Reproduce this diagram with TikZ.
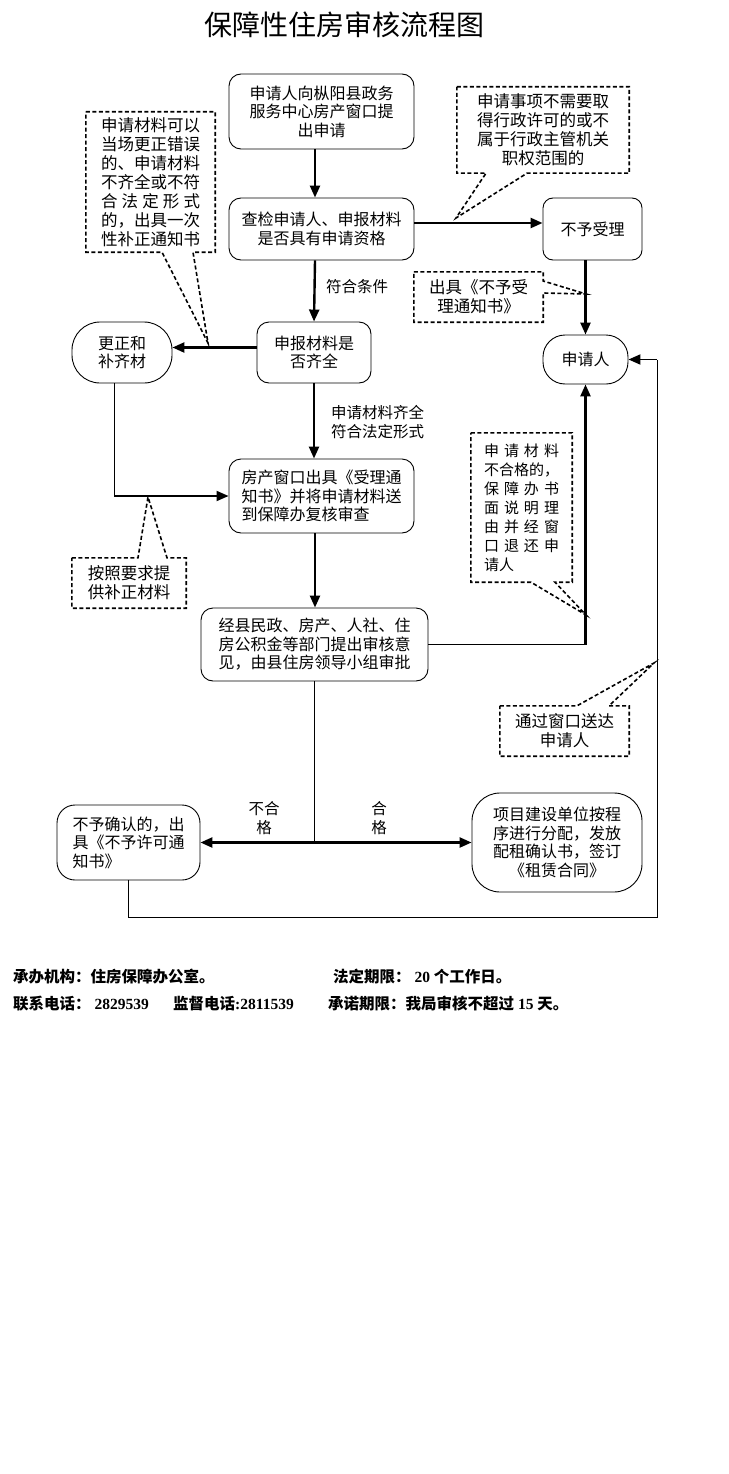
\documentclass[tikz,border=0pt]{standalone}
\usepackage{fontspec}
\setmainfont{Noto Sans CJK SC}
\newfontfamily\numfont{Liberation Serif}
\usetikzlibrary{arrows.meta, positioning, calc}
\newcommand{\jl}[2]{\makebox[#1][s]{#2}}

\tikzset{
    box/.style={draw, line width=0.9pt, rounded corners=12pt, align=center, inner sep=2pt,
        font=\fontsize{16}{18.5}\selectfont},
    pill/.style={box, rounded corners=24pt},
    note/.style={inner sep=2pt, font=\fontsize{16.5}{19}\selectfont},
    noteline/.style={line width=1.6pt, dash pattern=on 4pt off 2.5pt},
    flow/.style={line width=2.4pt, -{Triangle[length=12pt,width=10pt]}},
    link/.style={line width=0.9pt},
    lbl/.style={font=\fontsize{15.5}{19.5}\selectfont, inner sep=1pt},
    foot/.style={anchor=west, inner sep=0pt, font=\fontsize{15.5}{18}\selectfont\bfseries}
}

\begin{document}
\begin{tikzpicture}[x=1pt, y=-1pt]
    \useasboundingbox (0,0) rectangle (728,1474);

    % Title
    \node[font=\fontsize{28}{30}\selectfont] (title) at (344,25) {保障性住房审核流程图};

    % Main boxes
    \coordinate (col) at (315,0);
    \node[box, minimum width=185pt, minimum height=75pt] (apply) at (321.5,111.5)
        {申请人向枞阳县政务\\服务中心房产窗口提\\出申请};
    \node[box, minimum width=185pt, minimum height=62pt] (check) at (321.5,229)
        {查检申请人、申报材料\\是否具有申请资格};
    \node[box, minimum width=114pt, minimum height=61pt] (complete) at (314,352.5)
        {申报材料是\\否齐全};
    \node[pill, rounded corners=28pt, minimum width=100pt, minimum height=61pt] (fix) at (122,352.5)
        {更正和\\补齐材};
    \node[box, rounded corners=10pt, minimum width=99pt, minimum height=62pt] (reject) at (592.5,229)
        {不予受理};
    \node[pill, rounded corners=22pt, minimum width=85pt, minimum height=49pt] (applicant) at (585.5,359.5)
        {申请人};
    \node[box, align=left, minimum width=185pt, minimum height=74pt] (accept) at (321.5,496)
        {房产窗口出具《受理通\\知书》并将申请材料送\\到保障办复核审查};
    \node[box, minimum width=227pt, minimum height=73pt] (review) at (314.5,644.5)
        {经县民政、房产、人社、住\\房公积金等部门提出审核意\\见，由县住房领导小组审批};
    \node[box, align=left, rounded corners=18pt, minimum width=143pt, minimum height=75pt] (decline) at (128.5,842.5)
        {不予确认的，出\\具《不予许可通\\知书》};
    \node[box, rounded corners=28pt, minimum width=170pt, minimum height=99pt] (assign) at (557,842.5)
        {项目建设单位按程\\序进行分配，发放\\配租确认书，签订\\《租赁合同》};

    % Flow
    \draw[flow] (apply.south -| col) -- (check.north -| col);
    \draw[flow] (check.south -| col) -- (complete.north);
    \node[lbl, anchor=west] (okcond) at (325,287) {符合条件};
    \draw[flow] ([yshift=5pt]complete.west) -- ([yshift=5pt]fix.east);
    \draw[flow] ([yshift=6pt]check.east) -- ([yshift=6pt]reject.west);
    \draw[flow] (reject.south -| applicant) -- (applicant.north);
    \draw[flow] (complete.south) -- (accept.north -| complete);
    \node[lbl, anchor=west, align=left] (oklegal) at (330,422) {申请材料齐全\\符合法定形式};

    \path ([xshift=-8pt]fix.south) coordinate (fixdrop);
    \coordinate (fixturn) at (fixdrop |- accept.west);
    \draw[link] (fixdrop) -- (fixturn);
    \draw[flow, line width=1.8pt] (fixturn) -- (accept.west);

    \draw[flow] (accept.south -| col) -- (review.north -| col);

    \coordinate (backturn) at (applicant.south |- review.east);
    \draw[link] (review.east) -- (backturn);
    \draw[flow] (backturn) -- (applicant.south);

    \coordinate (split) at (review.south |- decline.east);
    \draw[link] (review.south) -- (split);
    \draw[flow, {Triangle[length=12pt,width=10pt]}-{Triangle[length=12pt,width=10pt]}] (decline.east) -- (assign.west);
    \node[lbl, align=center] (failed) at (264,818) {不合\\格};
    \node[lbl, align=center] (passed) at (379,818) {合\\格};

    \coordinate (loopcorner) at (657,917);
    \coordinate (loopup) at (loopcorner |- applicant.east);
    \draw[link] (decline.south) |- (loopcorner) -- (loopup);
    \draw[flow, line width=1.8pt] (loopup) -- (applicant.east);

    % Notes
    \node[note, align=left, minimum width=129pt, minimum height=140pt] (noteFix) at (150.5,182)
        {申请材料可以\\当场更正错误\\的、申请材料\\不齐全或不符\\\jl{6em}{合 法 定 形 式}\\的，出具一次\\性补正通知书};
    \coordinate (tipFix) at (208,343);
    \draw[noteline] (noteFix.north west) -- (noteFix.north east) -- (noteFix.south east)
        -- ([xshift=42.5pt]noteFix.south) -- (tipFix) -- ([xshift=11.5pt]noteFix.south)
        -- (noteFix.south west) -- cycle;

    \node[note, align=center, minimum width=172pt, minimum height=86pt] (noteScope) at (543,130)
        {申请事项不需要取\\得行政许可的或不\\属于行政主管机关\\职权范围的};
    \coordinate (tipScope) at (456,218);
    \draw[noteline] (noteScope.north west) -- (noteScope.north east) -- (noteScope.south east)
        -- ([xshift=-16pt]noteScope.south) -- (tipScope) -- ([xshift=-57pt]noteScope.south)
        -- (noteScope.south west) -- cycle;

    \node[note, align=center, minimum width=129pt, minimum height=50pt] (noteReject) at (478.5,297)
        {出具《不予受\\理通知书》};
    \coordinate (tipReject) at (586,294);
    \draw[noteline] (noteReject.north west) -- (noteReject.north east) -- ([yshift=16pt]noteReject.east)
        -- (tipReject) -- ([yshift=4pt]noteReject.east) -- (noteReject.south east)
        -- (noteReject.south west) -- cycle;

    \node[note, align=left, minimum width=114pt, minimum height=50pt] (noteSupply) at (129,583)
        {按照要求提\\供补正材料};
    \coordinate (tipSupply) at (148,497);
    \draw[noteline] (noteSupply.north west) -- ([xshift=9pt]noteSupply.north) -- (tipSupply)
        -- ([xshift=38pt]noteSupply.north) -- (noteSupply.north east) -- (noteSupply.south east)
        -- (noteSupply.south west) -- cycle;

    \node[note, align=left, font=\fontsize{15}{19}\selectfont, minimum width=101pt, minimum height=149pt] (noteReturn) at (521.5,507.5)
        {\jl{5em}{申 请 材 料}\\不合格的，\\\jl{5em}{保 障 办 书}\\\jl{5em}{面 说 明 理}\\\jl{5em}{由 并 经 窗}\\\jl{5em}{口 退 还 申}\\请人};
    \coordinate (tipReturn) at (586,615);
    \draw[noteline] (noteReturn.north west) -- (noteReturn.north east) -- (noteReturn.south east)
        -- ([xshift=33.5pt]noteReturn.south) -- (tipReturn) -- ([xshift=9.5pt]noteReturn.south)
        -- (noteReturn.south west) -- cycle;

    \node[note, align=center, minimum width=129pt, minimum height=50pt] (noteDeliver) at (564.5,731)
        {通过窗口送达\\申请人};
    \coordinate (tipDeliver) at (654,663);
    \draw[noteline] (noteDeliver.north west) -- ([xshift=12.5pt]noteDeliver.north) -- (tipDeliver)
        -- ([xshift=44.5pt]noteDeliver.north) -- (noteDeliver.north east) -- (noteDeliver.south east)
        -- (noteDeliver.south west) -- cycle;

    % Footer
    \node[foot] (org) at (13,977) {承办机构：住房保障办公室。};
    \node[foot] (term) at (333,977) {法定期限：{\numfont\ 20 }个工作日。};
    \node[foot] (tel) at (13,1004) {联系电话：{\numfont\ 2829539}};
    \node[foot] (sup) at (173,1004) {监督电话{\numfont :2811539}};
    \node[foot] (promise) at (328,1004) {承诺期限：我局审核不超过{\numfont\ 15 }天。};

\end{tikzpicture}
\end{document}
